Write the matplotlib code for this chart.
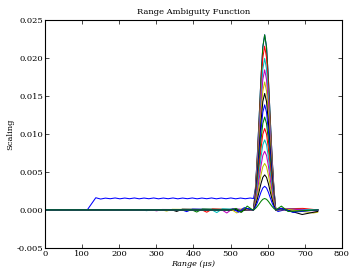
import matplotlib
matplotlib.use("Agg")
import matplotlib.pyplot as plt
import numpy as np

plt.rcParams['font.family'] = 'DejaVu Serif'
plt.rcParams['mathtext.fontset'] = 'dejavuserif'
plt.rcParams['axes.unicode_minus'] = False

# colour of every trace, in drawing order (old 'bgrcmyk' cycle)
colors = ['b', 'g', 'r', 'c', 'm', 'y', 'k', 'b', 'g', 'r', 'c', 'm', 'y', 'k', 'b', 'g']

# main lobe peak of every trace
peaks = [0.0230, 0.0230, 0.0215, 0.0199, 0.0184, 0.0168, 0.0153, 0.0138,
         0.0122, 0.0107, 0.0092, 0.0077, 0.0061, 0.0046, 0.0031, 0.0015]

# main lobe shape, centred at 592 us
lobe_center = 592
lobe_dx = [-30, -25, -20, -15, -10, -5, 0, 5, 10, 15, 20, 25, 30]
lobe_rel = [0.0, 0.12, 0.30, 0.52, 0.75, 0.93, 1.0, 0.93, 0.75, 0.52, 0.30, 0.12, 0.0]

# sidelobes of traces 2..16: left dip, bump before lobe, bump after lobe, right dip, end value
left_x = [220, 247, 274, 301, 328, 355, 382, 409, 436, 463, 490, 517, 528, 522, 530]
left_y = [-0.00005, -0.00005, -0.0001, -0.00012, -0.00015, -0.0002, -0.00022, -0.00028,
          -0.0003, -0.00035, -0.0004, -0.0004, -0.0003, -0.0003, -0.0003]
lbump_y = [0.00003, 0.00003, 0.00005, 0.00006, 0.00008, 0.0001, 0.0001, 0.00012,
           0.00012, 0.00015, 0.00015, 0.0002, 0.0002, 0.0003, 0.0005]
rbump_y = [0.00003, 0.00003, 0.00005, 0.00005, 0.00008, 0.0001, 0.0001, 0.00012,
           0.00015, 0.00015, 0.0002, 0.0002, 0.0002, 0.0002, 0.0005]
right_x = [800, 800, 800, 800, 800, 800, 800, 800, 695, 800, 800, 723, 693, 669, 655]
right_y = [0, 0, 0, 0, 0, 0, 0, 0, 0.0002, 0, 0, -0.0004, -0.0006, -0.0003, -0.0002]
end_y = [0.0, 0.0, 0.0, 0.00005, 0.0, 0.0, 0.0, 0.0, 0.0, 0.0, 0.0, -0.00015,
         -0.0003, -0.0002, 0.0, 0.0]

# the wide pulse (first trace): rise, rippled plateau, then into the lobe
plateau_x = np.arange(137, 554, 13)
plateau_y = [0.00160, 0.00143, 0.00155, 0.00147, 0.00157, 0.00146, 0.00156, 0.00147,
             0.00157, 0.00146, 0.00156, 0.00147, 0.00157, 0.00146, 0.00156, 0.00147,
             0.00157, 0.00146, 0.00156, 0.00147, 0.00157, 0.00146, 0.00156, 0.00147,
             0.00157, 0.00146, 0.00156, 0.00147, 0.00157, 0.00146, 0.00156, 0.00147,
             0.00156]
tail_x = [628, 645, 669, 690, 735]
tail_y = [-0.0002, 0.0, -0.0003, 0.0, 0.0]
range_end = 735

fig = plt.figure(figsize=(3.51, 2.70), dpi=100)
ax = fig.add_axes([0.128, 0.0815, 0.846, 0.846])

for i in range(len(colors)):
    p = peaks[i]
    if i == 0:
        xs = [0, 114] + list(plateau_x) + [562]
        ys = [0, 0] + plateau_y + [0.0015]
        xs += [lobe_center + d for d in lobe_dx[1:]]
        ys += [p * r for r in lobe_rel[1:]]
        xs += tail_x
        ys += tail_y
    else:
        j = i - 1
        L = left_x[j]
        xs = [0, L - 30, L - 15, L, L + 15, 560]
        ys = [0, 0, 0.4 * lbump_y[j], left_y[j], lbump_y[j], 0]
        xs += [lobe_center + d for d in lobe_dx]
        ys += [p * r for r in lobe_rel]
        xs += [637]
        ys += [rbump_y[j]]
        R = right_x[j]
        if R < range_end:
            xs += [R]
            ys += [right_y[j]]
        xs += [range_end]
        ys += [end_y[i]]
    ax.plot(xs, ys, color=colors[i], lw=0.75)

ax.set_xlim(0, 800)
ax.set_ylim(-0.005, 0.025)
ax.set_xticks(range(0, 801, 100))
ax.set_yticks([-0.005, 0.0, 0.005, 0.010, 0.015, 0.020, 0.025])
ax.set_yticklabels(['-0.005', '0.000', '0.005', '0.010', '0.015', '0.020', '0.025'])
ax.tick_params(direction='in', top=True, right=True, labelsize=6, length=3, width=0.5, pad=1.2)
for s in ax.spines.values():
    s.set_linewidth(0.8)
ax.set_title('Range Ambiguity Function', fontsize=6, pad=4)
ax.set_xlabel('Range (\u03bcs)', fontsize=5.8, fontstyle='italic', va='bottom')
ax.xaxis.set_label_coords(0.5, -0.0875)
ax.set_ylabel('Scaling', fontsize=6, va='center')
ax.yaxis.set_label_coords(-0.117, 0.5)

fig.savefig('out.png', dpi=100, facecolor='white')
